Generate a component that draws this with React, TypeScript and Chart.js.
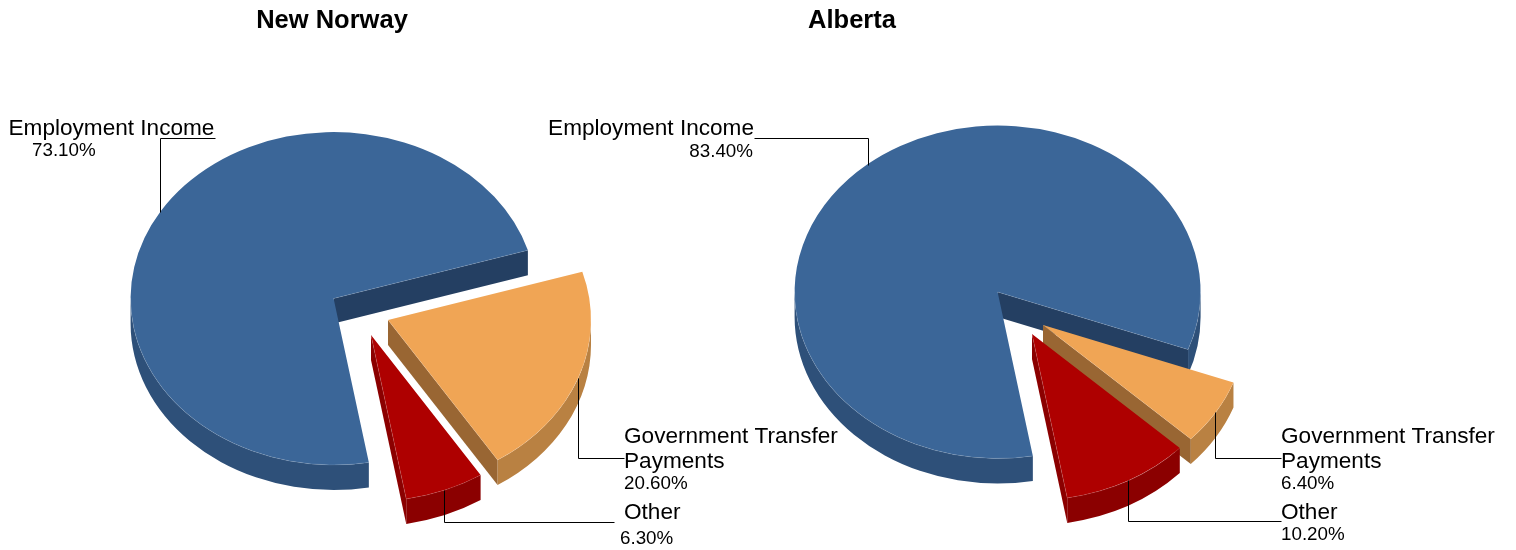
import React, { useEffect, useRef } from "react";
import { Chart, registerables } from "chart.js";

Chart.register(...registerables);

const categories = ["Employment Income", "Government Transfer Payments", "Other"];
const newNorwayValues = [73.1, 20.6, 6.3];
const albertaValues = [83.4, 6.4, 10.2];
const newNorwayPercents = ["73.10%", "20.60%", "6.30%"];
const albertaPercents = ["83.40%", "6.40%", "10.20%"];

const topColors = ["#3B6698", "#F0A555", "#AE0000"];
const sideColors = ["#2E5079", "#B98142", "#8B0000"];
const innerColors = ["#243F62", "#996633", "#8B0000"];

const FONT = "'Liberation Sans', Arial, sans-serif";
const SQUASH = 0.82;
const DEPTH = 25;
const ROTATION = 170;

type Txt = { t: string; x: number; y: number; align?: CanvasTextAlign; size: number };
type Layout = {
  left: number;
  width: number;
  center: [number, number];
  explode: [number, number][];
  leaders: [number, number][][];
  texts: Txt[];
};

const L = 22.6;
const S = 18.8;

const newNorwayLayout: Layout = {
  left: -216,
  width: 1096,
  center: [333.6, 298.5],
  explode: [[0, 0], [54.4, 21.5], [37.4, 36.5]],
  leaders: [
    [[160, 212], [160, 138], [215, 138]],
    [[578, 378], [578, 458], [624, 458]],
    [[444, 490], [444, 522], [614, 522]],
  ],
  texts: [
    { t: "Employment Income", x: 8.5, y: 135, size: L },
    { t: newNorwayPercents[0], x: 32, y: 156, size: S },
    { t: "Government Transfer", x: 624, y: 443, size: L },
    { t: "Payments", x: 624, y: 468, size: L },
    { t: newNorwayPercents[1], x: 624, y: 489, size: S },
    { t: "Other", x: 624, y: 519, size: L },
    { t: newNorwayPercents[2], x: 620, y: 544, size: S },
  ],
};

const albertaLayout: Layout = {
  left: 188,
  width: 1328,
  center: [997.6, 292],
  explode: [[0, 0], [45.4, 33], [34.4, 42]],
  leaders: [
    [[868, 165], [868, 138], [754, 138]],
    [[1215, 412], [1215, 458], [1281, 458]],
    [[1128, 480], [1128, 521], [1281, 521]],
  ],
  texts: [
    { t: "Employment Income", x: 754, y: 135, size: L, align: "right" },
    { t: albertaPercents[0], x: 753, y: 157, size: S, align: "right" },
    { t: "Government Transfer", x: 1281, y: 443, size: L },
    { t: "Payments", x: 1281, y: 468, size: L },
    { t: albertaPercents[1], x: 1281, y: 489, size: S },
    { t: "Other", x: 1281, y: 519, size: L },
    { t: albertaPercents[2], x: 1281, y: 540, size: S },
  ],
};

const pie3d = {
  id: "pie3d",
  beforeDatasetsDraw(chart: any, _args: any, opts: any) {
    const ctx: CanvasRenderingContext2D = chart.ctx;
    const layout: Layout = opts.layout;
    const arcs = chart.getDatasetMeta(0).data;
    const TAU = Math.PI * 2;
    arcs.forEach((el: any, i: number) => {
      const { startAngle: a1, endAngle: a2, outerRadius: r } = el;
      const cx = layout.center[0] - layout.left + layout.explode[i][0];
      const cy = layout.center[1] + layout.explode[i][1];
      const ry = r * SQUASH;
      const rim = (a: number) => [cx + r * Math.cos(a), cy + ry * Math.sin(a)];

      // radial cut faces
      ctx.fillStyle = innerColors[i];
      const face = (a: number) => {
        const [x, y] = rim(a);
        ctx.beginPath();
        ctx.moveTo(cx, cy);
        ctx.lineTo(x, y);
        ctx.lineTo(x, y + DEPTH);
        ctx.lineTo(cx, cy + DEPTH);
        ctx.closePath();
        ctx.fill();
      };
      if (Math.cos(a1) < 0) face(a1);
      if (Math.cos(a2) > 0) face(a2);

      // outer wall, lower half of the ellipse only
      const spans: [number, number][] = [];
      for (let k = -2; k <= 2; k++) {
        const s = Math.max(a1, k * TAU);
        const e = Math.min(a2, k * TAU + Math.PI);
        if (e > s) spans.push([s, e]);
      }
      ctx.fillStyle = sideColors[i];
      spans.forEach(([s, e]) => {
        ctx.beginPath();
        ctx.ellipse(cx, cy, r, ry, 0, s, e);
        ctx.ellipse(cx, cy + DEPTH, r, ry, 0, e, s, true);
        ctx.closePath();
        ctx.fill();
      });

      // top face, through the library's arc element
      ctx.save();
      ctx.translate(cx, cy);
      ctx.scale(1, SQUASH);
      ctx.translate(-el.x, -el.y);
      el.draw(ctx);
      ctx.restore();

      // faint highlight where the top meets the walls
      ctx.strokeStyle = "rgba(255,255,255,0.16)";
      ctx.lineWidth = 0.7;
      spans.forEach(([s, e]) => {
        ctx.beginPath();
        ctx.ellipse(cx, cy, r, ry, 0, s, e);
        ctx.stroke();
      });
      const edge = (a: number) => {
        const [x, y] = rim(a);
        ctx.beginPath();
        ctx.moveTo(cx, cy);
        ctx.lineTo(x, y);
        ctx.stroke();
      };
      if (Math.cos(a1) < 0) edge(a1);
      if (Math.cos(a2) > 0) edge(a2);
    });

    // leader lines and labels
    ctx.save();
    ctx.translate(-layout.left, 0);
    ctx.strokeStyle = "#000";
    ctx.lineWidth = 1;
    layout.leaders.forEach((pts) => {
      ctx.beginPath();
      pts.forEach(([x, y], j) => {
        const px = Math.round(x) + 0.5;
        const py = Math.round(y) + 0.5;
        if (j === 0) ctx.moveTo(px, py);
        else ctx.lineTo(px, py);
      });
      ctx.stroke();
    });
    ctx.fillStyle = "#000";
    ctx.textBaseline = "alphabetic";
    layout.texts.forEach((t) => {
      ctx.font = `${t.size}px ${FONT}`;
      ctx.textAlign = t.align ?? "left";
      ctx.fillText(t.t, t.x, t.y);
    });
    ctx.restore();
    return false;
  },
};

function Pie({ title, values, layout }: { title: string; values: number[]; layout: Layout }) {
  const ref = useRef<HTMLCanvasElement>(null);
  useEffect(() => {
    const chart = new Chart(ref.current!, {
      type: "pie",
      plugins: [pie3d],
      data: {
        labels: categories,
        datasets: [{ data: values, backgroundColor: topColors, borderWidth: 0, hoverBorderWidth: 0 } as any],
      },
      options: {
        responsive: false,
        animation: false,
        rotation: ROTATION,
        events: [],
        layout: { padding: { top: 0, bottom: 49 } },
        plugins: {
          legend: { display: false },
          tooltip: { enabled: false },
          title: {
            display: true,
            text: title,
            color: "#000",
            font: { family: FONT, size: 25.5, weight: "bold", lineHeight: 1.2 },
            padding: { top: 5.5, bottom: 58.9 },
          },
          pie3d: { layout },
        } as any,
      },
    });
    return () => chart.destroy();
  }, []);
  return (
    <canvas
      ref={ref}
      width={layout.width}
      height={550}
      style={{ position: "absolute", left: layout.left, top: 0, width: layout.width, height: 550, display: "block" }}
    />
  );
}

export default function App() {
  return (
    <div style={{ position: "absolute", left: 0, top: 0, width: 1516, height: 550, overflow: "hidden" }}>
      <Pie title="New Norway" values={newNorwayValues} layout={newNorwayLayout} />
      <Pie title="Alberta" values={albertaValues} layout={albertaLayout} />
    </div>
  );
}
